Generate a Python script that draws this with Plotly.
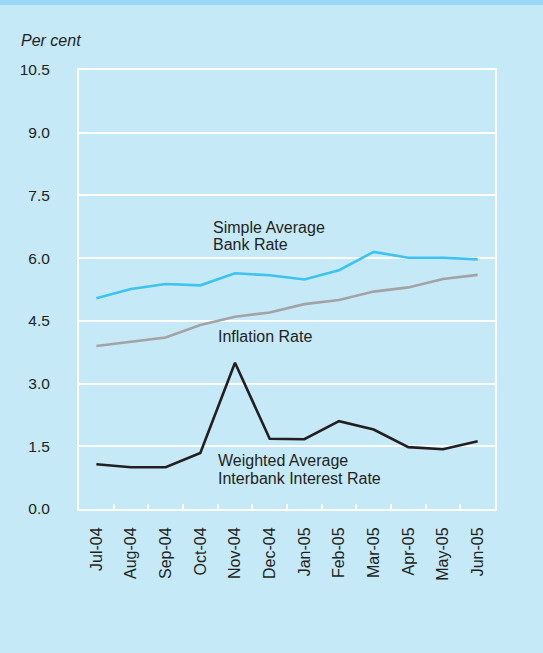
import plotly.graph_objects as go

months = ["Jul-04", "Aug-04", "Sep-04", "Oct-04", "Nov-04", "Dec-04",
          "Jan-05", "Feb-05", "Mar-05", "Apr-05", "May-05", "Jun-05"]
bank_rate = [5.04, 5.26, 5.38, 5.35, 5.64, 5.59, 5.49, 5.71, 6.15, 6.01, 6.01, 5.97]
inflation = [3.9, 4.0, 4.1, 4.4, 4.6, 4.7, 4.9, 5.0, 5.2, 5.3, 5.5, 5.6]
interbank = [1.07, 1.0, 1.0, 1.34, 3.5, 1.68, 1.67, 2.1, 1.9, 1.48, 1.43, 1.62]
y_ticks = [0.0, 1.5, 3.0, 4.5, 6.0, 7.5, 9.0, 10.5]

W, H = 543, 653
L, R, T, B = 79, 48, 70, 144
BG = "#c6e9f8"
TXT = "#231f20"
FONT = "Liberation Sans, Arial, sans-serif"

fig = go.Figure()
fig.add_trace(go.Scatter(x=months, y=bank_rate, mode="lines",
                         line=dict(color="#3cc3f2", width=2.6), name="Simple Average Bank Rate"))
fig.add_trace(go.Scatter(x=months, y=inflation, mode="lines",
                         line=dict(color="#a3a3a5", width=2.6), name="Inflation Rate"))
fig.add_trace(go.Scatter(x=months, y=interbank, mode="lines",
                         line=dict(color=TXT, width=2.6), name="Weighted Average Interbank Interest Rate"))

pw = W - L - R
ph = H - T - B


def px_x(p):
    return (p - L) / pw


ann = dict(xref="paper", yref="y", showarrow=False, xanchor="left", align="left",
           yanchor="middle", font=dict(family=FONT, size=16, color=TXT))
# series labels, one annotation per text line for tight leading
labels = [
    ("Simple Average", 211, 6.74),
    ("Bank Rate", 211, 6.33),
    ("Inflation Rate", 216, 4.13),
    ("Weighted Average", 216, 1.16),
    ("Interbank Interest Rate", 216, 0.74),
]
for text, xp, yv in labels:
    fig.add_annotation(text=text, x=px_x(xp), y=yv, **ann)

fig.add_annotation(text="<i>Per cent</i>", xref="paper", yref="paper", x=px_x(19),
                   y=1 + (T - 41) / ph, xanchor="left", yanchor="middle",
                   showarrow=False, font=dict(family=FONT, size=16, color=TXT))

# top accent strip
fig.add_shape(type="rect", xref="paper", yref="paper", x0=px_x(0), x1=px_x(W),
              y0=1 + (T - 5) / ph, y1=1 + T / ph,
              fillcolor="#9bdaf6", line=dict(width=0), layer="below")

fig.update_layout(
    width=W, height=H,
    margin=dict(l=L, r=R, t=T, b=B),
    paper_bgcolor=BG, plot_bgcolor=BG,
    showlegend=False,
    font=dict(family=FONT, size=15, color=TXT),
    xaxis=dict(type="category", range=[-0.5, 11.5], tickson="boundaries",
               ticks="inside", ticklen=5, tickcolor="white", tickwidth=1.5,
               tickangle=-90, tickfont=dict(size=16, color=TXT),
               showgrid=False, showline=True, linecolor="white", linewidth=2,
               mirror=True, ticklabelstandoff=10, zeroline=False),
    yaxis=dict(range=[0, 10.5], tickvals=y_ticks,
               ticktext=[f"{v:.1f}" for v in y_ticks],
               showgrid=True, gridcolor="white", gridwidth=1.5,
               showline=True, linecolor="white", linewidth=2, mirror=True,
               ticks="", ticklabelstandoff=24, zeroline=False,
               tickfont=dict(size=15.5, color=TXT)),
)

fig.write_html("out.html")
